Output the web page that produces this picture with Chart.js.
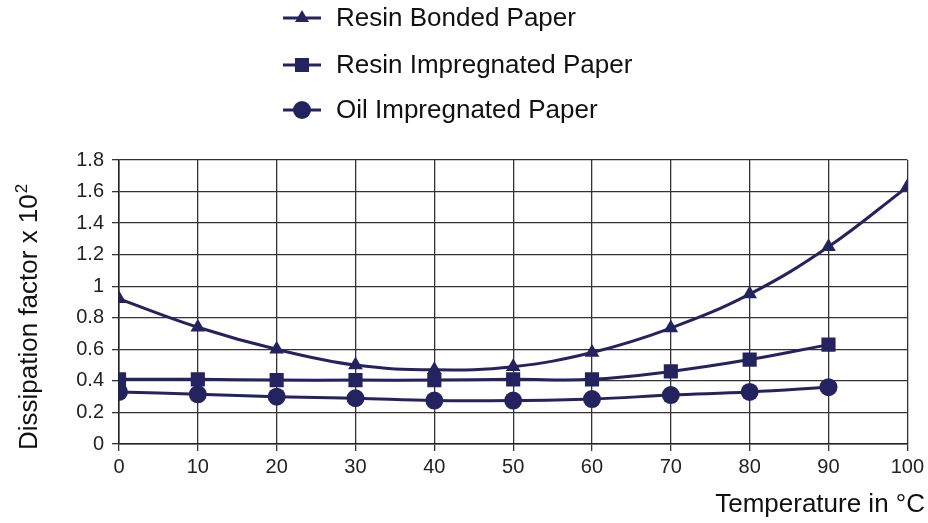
<!DOCTYPE html>
<html>
<head>
<meta charset="utf-8">
<script src="https://cdn.jsdelivr.net/npm/chart.js@4"></script>
<style>
  html, body { margin: 0; padding: 0; background: #fff; }
  #wrap { width: 928px; height: 523px; }
</style>
</head>
<body>
<div id="wrap"><canvas id="chart" width="928" height="523"></canvas></div>
<script>
// Temperature in °C
const temps = [0, 10, 20, 30, 40, 50, 60, 70, 80, 90, 100];
const tempsShort = [0, 10, 20, 30, 40, 50, 60, 70, 80, 90];

// Dissipation factor x 10^2
const resinBonded = [0.92, 0.74, 0.60, 0.50, 0.47, 0.49, 0.58, 0.735, 0.95, 1.25, 1.63];
const resinImpregnated = [0.41, 0.41, 0.405, 0.405, 0.405, 0.41, 0.41, 0.46, 0.535, 0.63];
const oilImpregnated = [0.33, 0.315, 0.30, 0.29, 0.275, 0.275, 0.285, 0.31, 0.33, 0.36];

const yTickLabels = { 0: '0', 0.2: '0.2', 0.4: '0.4', 0.6: '0.6', 0.8: '0.8', 1: '1', 1.2: '1.2', 1.4: '1.4', 1.6: '1.6', 1.8: '1.8' };

const navy = '#25235f';
const font = 'Liberation Sans, Arial, sans-serif';

function pts(xs, ys) {
    return ys.map((y, i) => ({ x: xs[i], y: y }));
}

// Legend stacked vertically above the plot, axis titles drawn by hand
const extras = {
    id: 'extras',
    afterDraw(chart) {
        const ctx = chart.ctx;
        ctx.save();
        const rows = [18, 65, 110];
        chart.data.datasets.forEach((ds, i) => {
            const y = rows[i];
            ctx.strokeStyle = navy;
            ctx.lineWidth = 3;
            ctx.beginPath();
            ctx.moveTo(283, y);
            ctx.lineTo(321, y);
            ctx.stroke();
            ctx.fillStyle = navy;
            ctx.beginPath();
            if (ds.pointStyle === 'triangle') {
                ctx.moveTo(302, y - 8);
                ctx.lineTo(309, y + 4);
                ctx.lineTo(295, y + 4);
                ctx.closePath();
            } else if (ds.pointStyle === 'rect') {
                ctx.rect(295, y - 7, 14, 14);
            } else {
                ctx.arc(302, y, 9, 0, Math.PI * 2);
            }
            ctx.fill();
            ctx.fillStyle = '#111';
            ctx.font = '26px ' + font;
            ctx.textBaseline = 'middle';
            ctx.textAlign = 'left';
            ctx.fillText(ds.label, 336, y + 1);
        });

        // x axis title
        ctx.font = '26px ' + font;
        ctx.textAlign = 'right';
        ctx.textBaseline = 'middle';
        ctx.fillStyle = '#111';
        ctx.fillText('Temperature in °C', 925, 505);

        // y axis title with superscript
        ctx.translate(37, 450);
        ctx.rotate(-Math.PI / 2);
        ctx.textAlign = 'left';
        ctx.textBaseline = 'alphabetic';
        const main = 'Dissipation factor x 10';
        ctx.font = '26px ' + font;
        ctx.fillText(main, 0, 0);
        const w = ctx.measureText(main).width;
        ctx.font = '17px ' + font;
        ctx.fillText('2', w + 1, -10);
        ctx.restore();
    }
};

new Chart(document.getElementById('chart').getContext('2d'), {
    type: 'line',
    data: {
        datasets: [{
            label: 'Resin Bonded Paper',
            data: pts(temps, resinBonded),
            pointStyle: 'triangle',
            pointRadius: 8.5
        }, {
            label: 'Resin Impregnated Paper',
            data: pts(tempsShort, resinImpregnated),
            pointStyle: 'rect',
            pointRadius: 10
        }, {
            label: 'Oil Impregnated Paper',
            data: pts(tempsShort, oilImpregnated),
            pointStyle: 'circle',
            pointRadius: 9
        }].map(ds => Object.assign(ds, {
            borderColor: navy,
            backgroundColor: navy,
            pointBackgroundColor: navy,
            pointBorderColor: navy,
            pointBorderWidth: 0,
            borderWidth: 3,
            tension: 0.4,
            fill: false
        }))
    },
    options: {
        responsive: false,
        animation: false,
        layout: { padding: { top: 160, right: 19, left: 0, bottom: 0 } },
        plugins: { legend: { display: false }, tooltip: { enabled: false } },
        scales: {
            x: {
                type: 'linear',
                min: 0,
                max: 100,
                afterFit: s => { s.height = 79; },
                ticks: {
                    stepSize: 10,
                    color: '#222',
                    font: { family: font, size: 20 },
                    padding: 4
                },
                grid: { color: '#333', lineWidth: 1.3, tickLength: 7 },
                border: { color: '#222', width: 1.5 }
            },
            y: {
                min: 0,
                max: 1.8,
                afterFit: s => { s.width = 119; },
                ticks: {
                    stepSize: 0.2,
                    color: '#222',
                    font: { family: font, size: 20 },
                    padding: 8,
                    callback: v => yTickLabels[Math.round(v * 10) / 10]
                },
                grid: { color: '#333', lineWidth: 1.3, tickLength: 7 },
                border: { color: '#222', width: 1.5 }
            }
        }
    },
    plugins: [extras]
});
</script>
</body>
</html>
